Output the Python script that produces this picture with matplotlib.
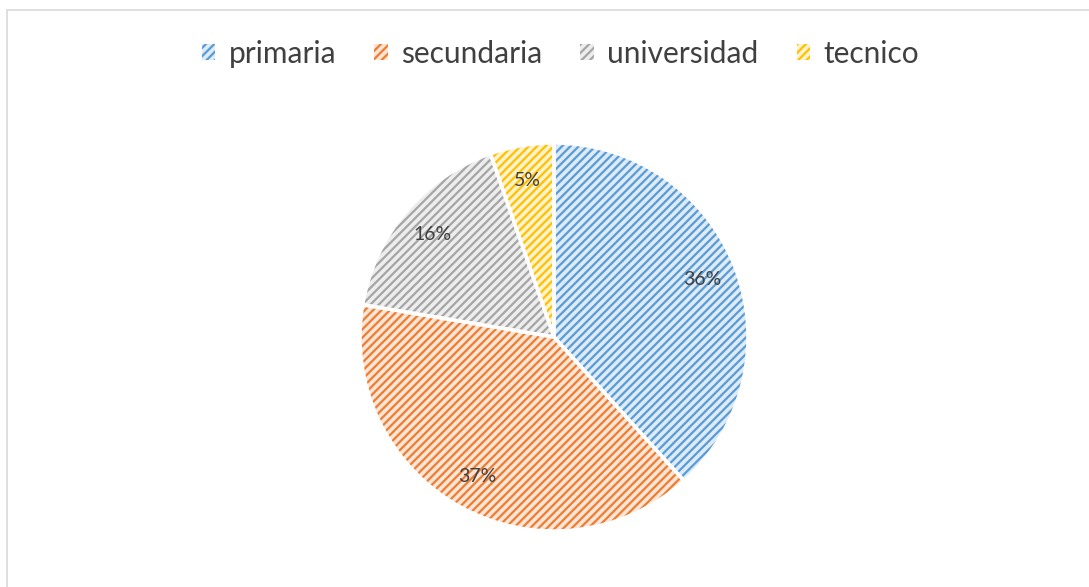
import matplotlib
matplotlib.use("Agg")
import matplotlib.pyplot as plt
import matplotlib.patches as mpatches

# ─────────────────────────────────────────────
# Daten
# ─────────────────────────────────────────────
categories = ["primaria", "secundaria", "universidad", "tecnico"]
values     = [0.36, 0.37, 0.16, 0.05]
labels     = ["36%", "37%", "16%", "5%"]

LINE_COLORS = ["#5B9BD5", "#ED7D31", "#A5A5A5", "#FFC000"]
TINT_COLORS = ["#DDEBF7", "#FCE4D6", "#EDEDED", "#FFF2CC"]
HATCH = "////"

plt.rcParams["font.family"] = ["Lato", "DejaVu Sans"]
plt.rcParams["hatch.linewidth"] = 1.6

W, H = 1089, 587
fig = plt.figure(figsize=(W / 100, H / 100), dpi=100)
fig.patch.set_facecolor("white")

# Rahmen des Diagrammbereichs
frame = mpatches.Rectangle((7 / W, -0.05), 1.2, 1.05 - 10 / H,
                           transform=fig.transFigure, fill=False,
                           edgecolor="#D9D9D9", linewidth=1.2)
fig.patches.append(frame)

cx, cy, r = 554, 337, 194
ax = fig.add_axes([(cx - r) / W, 1 - (cy + r) / H, 2 * r / W, 2 * r / H])

# Schicht 1: helle Füllung
ax.pie(values, colors=TINT_COLORS, startangle=90, counterclock=False,
       radius=1, wedgeprops=dict(linewidth=0))
# Schicht 2: Schraffur
hatched, _ = ax.pie(values, colors=["none"] * 4, startangle=90, counterclock=False,
                    radius=1, wedgeprops=dict(linewidth=0))
for w, c in zip(hatched, LINE_COLORS):
    w.set_hatch(HATCH)
    w.set_edgecolor(c)
    w.set_facecolor("none")
# Schicht 3: weiße Trennlinien + Beschriftung
outl, texts = ax.pie(values, labels=labels, startangle=90, counterclock=False,
                     radius=1, labeldistance=0.82,
                     wedgeprops=dict(fill=False, edgecolor="white", linewidth=2.5),
                     textprops=dict(fontsize=14, color="#404040"))
for t in texts:
    t.set_ha("center")
    t.set_va("center")

ax.set_xlim(-1, 1)
ax.set_ylim(-1, 1)
ax.set_aspect("equal")
ax.axis("off")

handles = [mpatches.Patch(facecolor=t, edgecolor=c, hatch=HATCH, linewidth=0, label=lab)
           for lab, c, t in zip(categories, LINE_COLORS, TINT_COLORS)]
fig.legend(handles=handles, loc="center", bbox_to_anchor=(0.5147, 1 - 54 / H),
           ncol=4, frameon=False, fontsize=21.5, labelcolor="#404040",
           handlelength=0.45, handleheight=0.45, handletextpad=0.45,
           columnspacing=1.27)

fig.savefig("out.png", dpi=100, facecolor="white")
